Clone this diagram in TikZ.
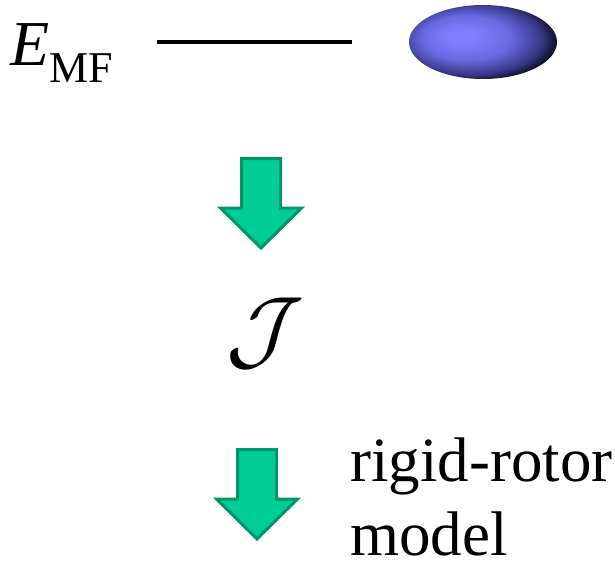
\RequirePackage{fix-cm}
\documentclass[tikz,border=0pt]{standalone}
\usepackage{fontspec}
\setmainfont{Liberation Serif}
\usetikzlibrary{positioning,shapes.geometric}

\definecolor{arrowfill}{RGB}{0,204,150}
\definecolor{arrowline}{RGB}{0,150,105}
\definecolor{rotorhi}{RGB}{128,128,255}
\definecolor{rotormid}{RGB}{105,105,225}
\definecolor{rotordark}{RGB}{55,55,135}
\pgfdeclareradialshading{rotorball}{\pgfpoint{-8bp}{4bp}}{color(0bp)=(rotorhi); color(4bp)=(rotorhi); color(15bp)=(rotormid); color(24bp)=(rotordark); color(30bp)=(black); color(50bp)=(black)}

\begin{document}
\begin{tikzpicture}[x=1pt,y=-1pt, every node/.style={inner sep=0pt},
  big/.style={font=\fontsize{63}{74}\selectfont},
  blockarrow/.style={draw=arrowline,fill=arrowfill,line width=3pt,miter limit=4},
  downarrow/.pic={\draw[blockarrow] (-19.5,1.5) -- (19.5,1.5) -- (19.5,51) -- (40.5,51) -- (0,91) -- (-40.5,51) -- (-19.5,51) -- cycle;}]
\useasboundingbox (0,0) rectangle (615,570);
% mean-field energy level and the deformed shape
\node[anchor=base west,font=\fontsize{64}{64}\selectfont] (emf) at (10,65)
  {\textit{E}\raisebox{-17pt}{\fontsize{44}{44}\selectfont MF}};
\coordinate (lvlL) at (157,42);
\coordinate (lvlR) at (352,42);
\draw[line width=4pt] (lvlL) -- (lvlR);
\node[ellipse,minimum width=148pt,minimum height=74pt,shading=rotorball] (rotor) at (483,42) {};
% arrows down to the moment of inertia and the rotor model
\pic (arrA) at (261,157) {downarrow};
\node[font=\fontsize{90}{90}\selectfont] (inertia) at (265,333) {$\mathcal{J}$};
\pic (arrB) at (257,448) {downarrow};
\node[big,anchor=base west] (rigid) at (350,481) {rigid-rotor};
\node[big,anchor=base west] (model) at (350,555) {model};
\end{tikzpicture}
\end{document}
